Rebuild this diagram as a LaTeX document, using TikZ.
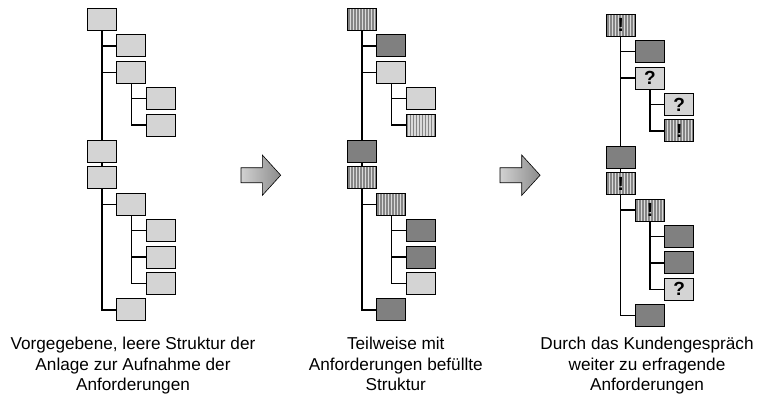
\documentclass[tikz,border=0pt]{standalone}
\usepackage{fontspec}
\setmainfont{Liberation Sans}
\definecolor{boxlight}{HTML}{D4D4D4}
\definecolor{boxdark}{HTML}{808080}
\definecolor{stripedark}{HTML}{858585}
\definecolor{stripelight}{HTML}{DADADA}
\tikzset{
  box/.style={draw=black, line width=1pt, minimum width=29pt, minimum height=22pt,
    inner sep=0pt, font=\fontsize{19}{19}\selectfont\bfseries},
  lt/.style={fill=boxlight},
  dk/.style={fill=boxdark},
  st/.style={fill=stripelight, path picture={
    \foreach \k in {0,...,10}{
      \fill[stripedark] ([xshift=\k*3pt+0.7pt]path picture bounding box.south west) rectangle ++(1.6pt,30pt);}}},
  conn/.style={draw=black, line width=1.3pt},
  captext/.style={font=\fontsize{17.2}{20}\selectfont, anchor=base, inner sep=0pt},
  bigarrow/.style={draw=black, line width=0.6pt, left color=black!18, right color=black!45}
}
\newcommand\treepanel[4]{%
  \begin{scope}[shift={(#1,#2)}, name prefix=#3-]
    \foreach \lv/\sty/\tx [count=\i from 0] in {#4}{
      \node[box,\sty] (r\i) at ({102+29.25*\lv},{19.5+26.4*\i}) {\tx};
    }
    \draw[conn] (r0) -- (r5);
    \draw[conn] (r0) |- (r1);
    \draw[conn] (r0) |- (r2);
    \draw[conn] (r2) |- (r3);
    \draw[conn] (r2) |- (r4);
    \draw[conn] (r5) -- (r6);
    \draw[conn] (r6) |- (r7);
    \draw[conn] (r6) |- (r11);
    \draw[conn] (r7) |- (r8);
    \draw[conn] (r7) |- (r9);
    \draw[conn] (r7) |- (r10);
  \end{scope}}
\begin{document}
\begin{tikzpicture}[x=1pt, y=-1pt]
  \useasboundingbox (0,0) rectangle (760,396);
  \treepanel{0}{0}{pa}{0/lt/{},1/lt/{},1/lt/{},2/lt/{},2/lt/{},0/lt/{},0/lt/{},1/lt/{},2/lt/{},2/lt/{},2/lt/{},1/lt/{}}
  \treepanel{260}{0}{pb}{0/st/{},1/dk/{},1/lt/{},2/lt/{},2/st/{},0/dk/{},0/st/{},1/st/{},2/dk/{},2/dk/{},2/lt/{},1/dk/{}}
  \treepanel{518.7}{5.8}{pc}{0/st/!,1/dk/{},1/lt/?,2/lt/?,2/st/!,0/dk/{},0/st/!,1/st/!,2/dk/{},2/dk/{},2/lt/?,1/dk/{}}
  % arrows
  \path[bigarrow] (241,167.7) -- (262.3,167.7) -- (262.3,155) -- (280.7,175.2) -- (262.3,195.4) -- (262.3,182.7) -- (241,182.7) -- cycle;
  \path[bigarrow] (500,167.7) -- (521.7,167.7) -- (521.7,155) -- (540.1,175.2) -- (521.7,195.4) -- (521.7,182.7) -- (500,182.7) -- cycle;
  % captions
  \node[captext] (ca1) at (133,349.8) {Vorgegebene, leere Struktur der};
  \node[captext] (ca2) at (133,370.2) {Anlage zur Aufnahme der};
  \node[captext] (ca3) at (133,390.6) {Anforderungen};
  \node[captext] (cb1) at (395.8,349.8) {Teilweise mit};
  \node[captext] (cb2) at (395.8,370.2) {Anforderungen befüllte};
  \node[captext] (cb3) at (395.8,390.6) {Struktur};
  \node[captext] (cc1) at (647,349.8) {Durch das Kundengespräch};
  \node[captext] (cc2) at (647,370.2) {weiter zu erfragende};
  \node[captext] (cc3) at (647,390.6) {Anforderungen};
\end{tikzpicture}
\end{document}
